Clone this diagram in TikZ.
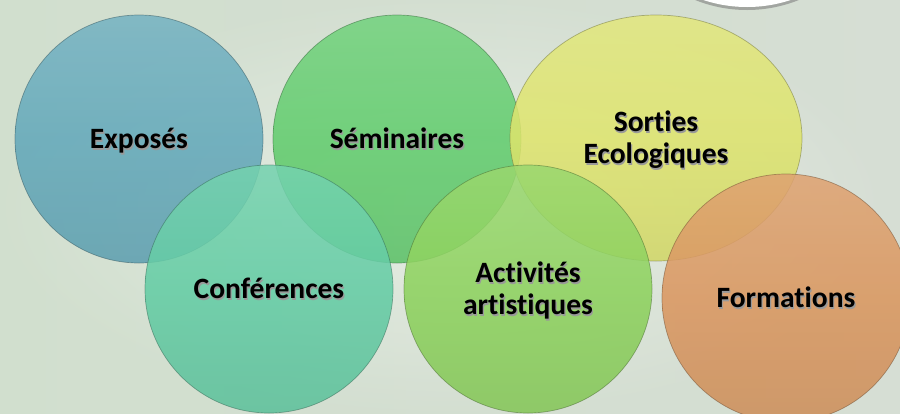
\documentclass[tikz,border=0pt]{standalone}
\usepackage{fontspec}
\setmainfont[Ligatures={NoCommon,NoContextual}]{Carlito}
\usetikzlibrary{shapes.geometric,shadows}
\definecolor{bgcol}{RGB}{214,222,212}
\definecolor{bgleft}{RGB}{206,224,202}
\definecolor{cBlue}{RGB}{98,168,186}
\definecolor{cGreen}{RGB}{96,204,108}
\definecolor{cYellow}{RGB}{222,228,108}
\definecolor{cTeal}{RGB}{98,204,164}
\definecolor{cLime}{RGB}{140,210,92}
\definecolor{cOrange}{RGB}{218,150,94}
\newcommand\txs[1]{\raisebox{-4pt}[\height][\depth]{\makebox[0pt][l]{\kern1.1pt\raisebox{-1.3pt}{\textcolor{black!40}{\begin{tabular}{@{}c@{}}#1\end{tabular}}}}\begin{tabular}{@{}c@{}}#1\end{tabular}}}
\tikzset{
  bubble/.style={circle, minimum size=248pt, inner sep=0pt,
    draw=#1!50!black, draw opacity=0.5, line width=0.7pt,
    top color=#1!88!white, bottom color=#1!94!black, middle color=#1,
    fill opacity=0.86, text opacity=1,
    font=\fontsize{29.5}{32}\selectfont\bfseries},
  oval/.style={bubble=#1, ellipse, minimum width=292pt, minimum height=246pt}
}
\begin{document}
\begin{tikzpicture}[x=1pt,y=-1pt]
\useasboundingbox (0,0) rectangle (900,413);
% background
\shade[left color=bgleft, right color=bgcol] (0,0) rectangle (900,413);
\shade[inner color=white, outer color=bgcol, opacity=0.45] (0,0) rectangle (900,413);
% badge at top right
\node[circle, fill=white, minimum size=278pt, inner sep=0pt,
  drop shadow={shadow xshift=0pt, shadow yshift=-3pt, opacity=0.6}] (badge) at (747,-132) {};
% bubbles
\node[bubble=cBlue]   (expo) at (139,139) {\txs{Exposés}};
\node[bubble=cGreen]  (semi) at (397,139) {\txs{Séminaires}};
\node[oval=cYellow]   (sort) at (656,138) {\txs{Sorties\\Ecologiques}};
\node[bubble=cTeal]   (conf) at (269,289) {\txs{Conférences}};
\node[bubble=cLime]   (acti) at (528,289) {\txs{Activités\\artistiques}};
\node[bubble=cOrange] (form) at (786,298) {\txs{Formations}};
\end{tikzpicture}
\end{document}
